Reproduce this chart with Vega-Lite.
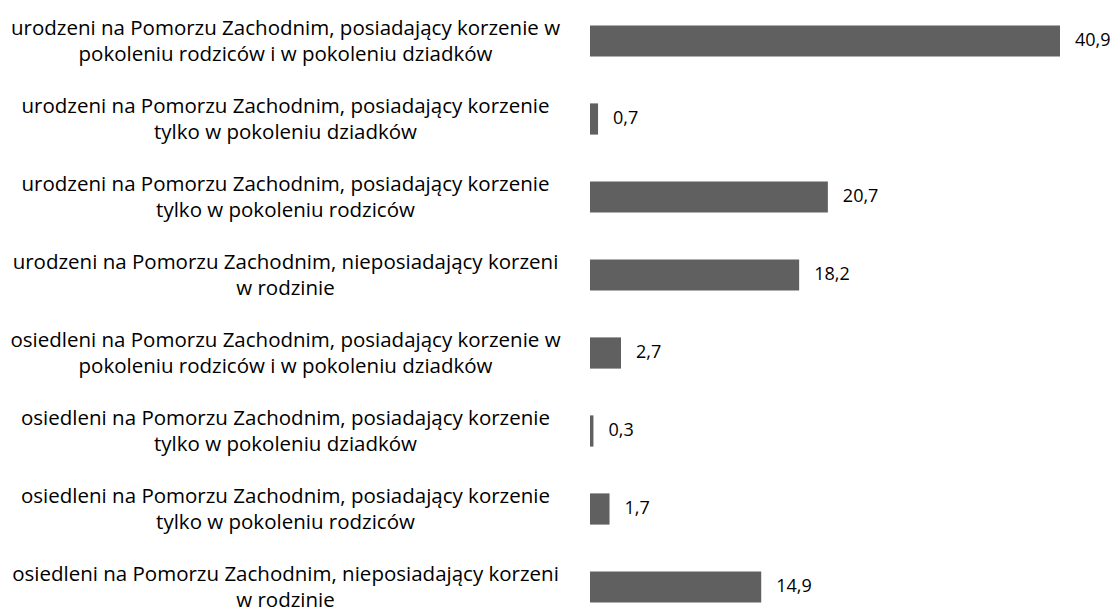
{
  "$schema": "https://vega.github.io/schema/vega-lite/v6.json",
  "autosize": {"type": "none"},
  "padding": {"left": 590, "top": 2, "right": 58, "bottom": 0},
  "width": 470,
  "height": 624,
  "background": "white",
  "config": {
    "view": {"stroke": null},
    "locale": {"number": {"decimal": ",", "thousands": " ", "grouping": [3], "currency": ["", ""]}}
  },
  "data": {
    "values": [
      {"kategoria": "urodzeni na Pomorzu Zachodnim, posiadający korzenie w|pokoleniu rodziców i w pokoleniu dziadków", "wartosc": 40.9},
      {"kategoria": "urodzeni na Pomorzu Zachodnim, posiadający korzenie|tylko w pokoleniu dziadków", "wartosc": 0.7},
      {"kategoria": "urodzeni na Pomorzu Zachodnim, posiadający korzenie|tylko w pokoleniu rodziców", "wartosc": 20.7},
      {"kategoria": "urodzeni na Pomorzu Zachodnim, nieposiadający korzeni|w rodzinie", "wartosc": 18.2},
      {"kategoria": "osiedleni na Pomorzu Zachodnim, posiadający korzenie w|pokoleniu rodziców i w pokoleniu dziadków", "wartosc": 2.7},
      {"kategoria": "osiedleni na Pomorzu Zachodnim, posiadający korzenie|tylko w pokoleniu dziadków", "wartosc": 0.3},
      {"kategoria": "osiedleni na Pomorzu Zachodnim, posiadający korzenie|tylko w pokoleniu rodziców", "wartosc": 1.7},
      {"kategoria": "osiedleni na Pomorzu Zachodnim, nieposiadający korzeni|w rodzinie", "wartosc": 14.9}
    ]
  },
  "encoding": {
    "y": {
      "field": "kategoria",
      "type": "nominal",
      "sort": null,
      "scale": {"paddingInner": 0.6, "paddingOuter": 0.3},
      "axis": {
        "title": null,
        "domain": false,
        "ticks": false,
        "tickSize": 0,
        "labelPadding": 305,
        "labelOffset": -12,
        "labelAlign": "center",
        "labelBaseline": "middle",
        "labelFont": "Open Sans",
        "labelFontSize": 20.5,
        "labelColor": "#000000",
        "labelLineHeight": 26,
        "labelLimit": 0,
        "labelExpr": "split(datum.label, '|')"
      }
    },
    "x": {
      "field": "wartosc",
      "type": "quantitative",
      "scale": {"domain": [0, 40.9], "nice": false, "zero": true},
      "axis": null
    }
  },
  "layer": [
    {"mark": {"type": "bar", "color": "#606060"}},
    {
      "mark": {"type": "text", "align": "left", "baseline": "middle", "dx": 15, "font": "Open Sans", "fontSize": 18, "color": "#000000"},
      "encoding": {"text": {"field": "wartosc", "type": "quantitative", "format": ".1f"}}
    }
  ]
}
